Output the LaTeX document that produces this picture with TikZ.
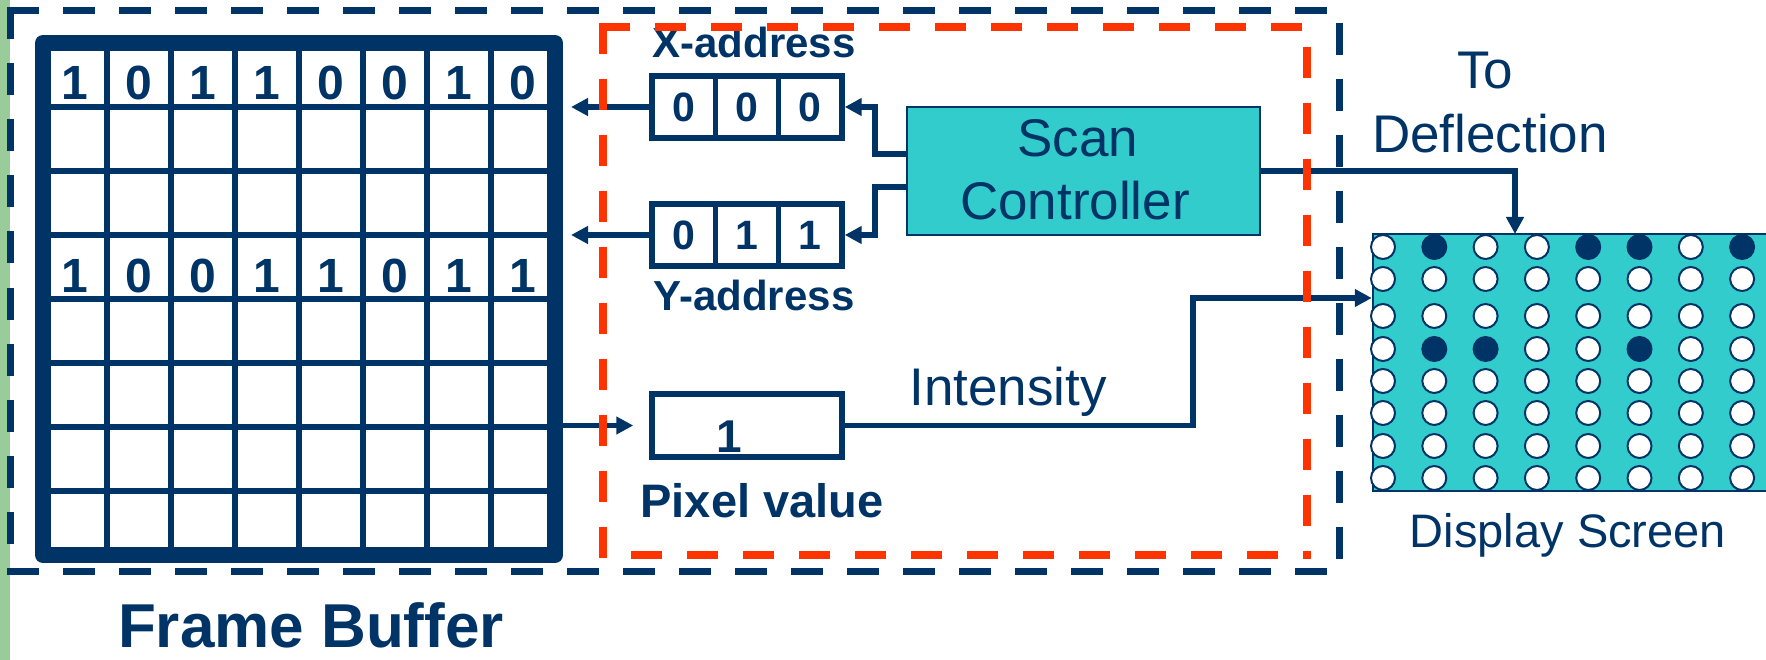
\documentclass[tikz,border=0pt]{standalone}
\usepackage{fontspec}
\setmainfont{Liberation Sans}
\usetikzlibrary{arrows.meta,calc}
\definecolor{dblue}{HTML}{003366}
\definecolor{turq}{HTML}{33CCCC}
\definecolor{ored}{HTML}{FF3300}
\definecolor{lgreen}{HTML}{99CC99}
\begin{document}
\begin{tikzpicture}[x=1pt,y=-1pt,
  txt/.style={text=dblue, inner sep=0pt, anchor=base},
  bluedash/.style={draw=dblue, line width=7pt, line cap=rect, dash pattern=on 25pt off 31pt},
  reddash/.style={draw=ored, line width=7.5pt, line cap=rect, dash pattern=on 23.5pt off 32.5pt},
  gridln/.style={draw=dblue, line width=6pt},
  regcell/.style={draw=dblue, line width=5.5pt, minimum width=63.33pt, minimum height=62pt, inner sep=0pt, fill=white, text=dblue, font=\fontsize{41}{44}\selectfont\bfseries},
  conn/.style={draw=dblue, line width=5.5pt},
  arr/.style={conn, -{Triangle[length=17pt,width=17pt]}},
  dotw/.style={circle, draw=dblue, line width=2pt, fill=white, minimum size=24pt, inner sep=0pt},
  dotk/.style={dotw, fill=dblue},
  fbd/.style={txt, font=\fontsize{48}{52}\selectfont\bfseries},
  lblb/.style={txt, font=\fontsize{42}{46}\selectfont\bfseries},
  lblr/.style={txt, font=\fontsize{53}{58}\selectfont},
]
\useasboundingbox (0,0) rectangle (1766,660);
% green strip
\fill[lgreen] (0,0) rectangle (10,660);

% frame buffer
\foreach \k in {1,...,7} {
  \draw[gridln] ({43+64*\k},43) -- ({43+64*\k},555);
  \draw[gridln] (43,{43+64*\k}) -- (555,{43+64*\k});
}
\node[draw=dblue, line width=16pt, line join=round, minimum size=512pt, inner sep=0pt] (fb) at (299,299) {};
\foreach \d [count=\i] in {1,0,1,1,0,0,1,0}
  \node[fbd] (ra\i) at ({43+64*\i-32},100) {\d};
\foreach \d [count=\i] in {1,0,0,1,1,0,1,1}
  \node[fbd] (rb\i) at ({43+64*\i-32},292) {\d};
\node[txt, font=\fontsize{62}{68}\selectfont\bfseries] (fbl) at (311,647) {Frame Buffer};

% registers
\node[regcell] (x1) at (683.7,107) {0};
\node[regcell] (x2) at (747,107) {0};
\node[regcell] (x3) at (810.3,107) {0};
\node[regcell] (y1) at (683.7,235) {0};
\node[regcell] (y2) at (747,235) {1};
\node[regcell] (y3) at (810.3,235) {1};
\node[draw=dblue, line width=5.5pt, minimum width=190pt, minimum height=63pt, inner sep=0pt] (pix) at (747,425.5) {};
\node[txt, font=\fontsize{46}{50}\selectfont\bfseries] (pixd) at (729,452) {1};
\node[lblb] (xl) at (754,58) {X-address};
\node[lblb] (yl) at (754,310) {Y-address};
\node[txt, font=\fontsize{47}{50}\selectfont\bfseries] (pl) at (762,517) {Pixel value};

% scan controller
\node[draw=dblue, fill=turq, line width=2.5pt, minimum width=353pt, minimum height=128pt, inner sep=0pt] (sc) at (1083.5,171) {};
\node[lblr] (sc1) at (1078,157) {Scan};
\node[lblr] (sc2) at (1075,220) {Controller};

% display screen
\node[draw=dblue, fill=turq, line width=2.5pt, minimum width=397pt, minimum height=257pt, inner sep=0pt] (scr) at (1571.5,362.5) {};
\foreach \s [count=\i] in {w,k,w,w,k,k,w,k} \node[dot\s] (da\i) at ({1383+51.3*(\i-1)},247) {};
\foreach \s [count=\i] in {w,w,w,w,w,w,w,w} \node[dot\s] (db\i) at ({1383+51.3*(\i-1)},279) {};
\foreach \s [count=\i] in {w,w,w,w,w,w,w,w} \node[dot\s] (dc\i) at ({1383+51.3*(\i-1)},316) {};
\foreach \s [count=\i] in {w,k,k,w,w,k,w,w} \node[dot\s] (dd\i) at ({1383+51.3*(\i-1)},349) {};
\foreach \s [count=\i] in {w,w,w,w,w,w,w,w} \node[dot\s] (de\i) at ({1383+51.3*(\i-1)},381) {};
\foreach \s [count=\i] in {w,w,w,w,w,w,w,w} \node[dot\s] (df\i) at ({1383+51.3*(\i-1)},413) {};
\foreach \s [count=\i] in {w,w,w,w,w,w,w,w} \node[dot\s] (dg\i) at ({1383+51.3*(\i-1)},446) {};
\foreach \s [count=\i] in {w,w,w,w,w,w,w,w} \node[dot\s] (dh\i) at ({1383+51.3*(\i-1)},478) {};
\node[txt, font=\fontsize{47}{52}\selectfont] (dsl) at (1568,547) {Display Screen};

% labels
\node[lblr] (to) at (1485,89) {To};
\node[lblr] (defl) at (1490,153) {Deflection};
\node[lblr] (intl) at (1008,405) {Intensity};

% connectors
\draw[arr, shorten >=8pt] (x1.west) -- (x1.west -| fb.east);
\draw[arr, shorten >=8pt] (y1.west) -- (y1.west -| fb.east);
\draw[arr, shorten >=16pt] (fb.east |- pix.west) -- (pix.west);
\draw[arr] (sc.west |- 0,154) -- (875,154) |- (x3.east);
\draw[arr] (sc.west |- 0,187) -- (875,187) |- (y3.east);
\coordinate (dtop) at (1515,234);
\draw[arr] (sc.east) -| (dtop);
\coordinate (ibend) at (1193,298);
\draw[arr] (pix.east) -| (ibend) -- (ibend -| scr.west);

% dashed frames
\draw[reddash] (603,27) -- (1307,27) -- (1307,555);
\draw[reddash] (603,27) -- (603,555) -- (1307,555);
\draw[bluedash] (10.7,11) -- (1339,11) -- (1339,571);
\draw[bluedash] (10.7,11) -- (10.7,571) -- (1339,571);
\end{tikzpicture}
\end{document}
